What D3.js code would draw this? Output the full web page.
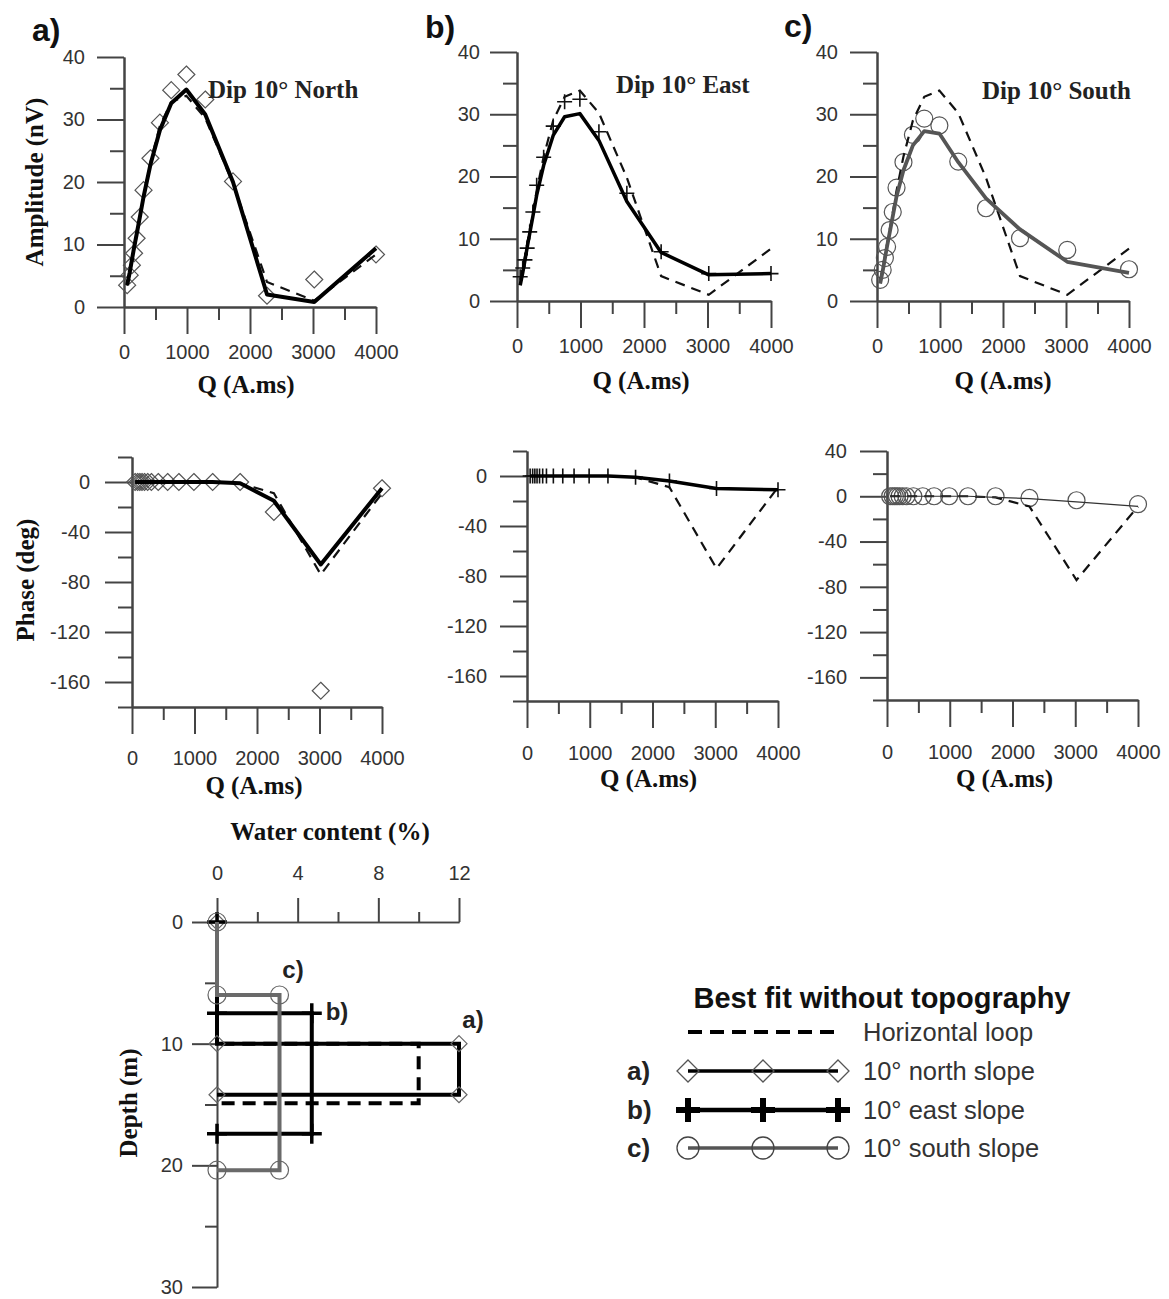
<!DOCTYPE html>
<html><head><meta charset="utf-8">
<script src="https://cdn.jsdelivr.net/npm/d3@7"></script>
<style>
body{margin:0;background:#fff}
svg{display:block;background:#fff}
</style>
</head><body>
<svg id="chart" width="1169" height="1299"></svg>
<script>
// ---------- data ----------
const Q = [50, 90, 125, 160, 200, 250, 310, 420, 570, 750, 990, 1290, 1730, 2270, 3020, 4000];
const ampHL       = [3.4, 5.3, 7.2, 9.2, 11.4, 14.2, 17.7, 23.2, 29.0, 32.8, 33.8, 30.2, 19.8, 4.0, 1.0, 8.4];
const ampNorthObs = [3.5, 5.1, 6.7, 8.6, 11.0, 14.4, 18.7, 23.8, 29.5, 34.7, 37.2, 33.2, 20.1, 1.8, 4.4, 8.4];
const ampNorthFit = [3.5, 5.5, 7.5, 9.5, 11.6, 14.3, 17.6, 22.8, 28.3, 32.6, 34.8, 30.8, 20.0, 2.0, 0.8, 9.4];
const ampEastObs  = [3.9, 5.3, 6.6, 8.5, 11.1, 14.3, 18.6, 23.1, 28.1, 32.0, 32.4, 27.2, 17.3, 7.9, 4.4, 4.4];
const ampEastFit  = [2.5, 4.5, 6.5, 8.6, 10.8, 13.6, 17.0, 21.8, 26.6, 29.6, 30.1, 25.8, 16.0, 7.8, 4.2, 4.4];
const ampSouthObs = [3.4, 5.0, 6.9, 8.7, 11.4, 14.3, 18.2, 22.3, 26.7, 29.3, 28.2, 22.4, 14.9, 10.1, 8.2, 5.1];
const ampSouthFit = [2.8, 4.8, 6.8, 8.8, 10.9, 13.6, 16.8, 21.0, 25.0, 27.3, 26.9, 22.3, 16.5, 11.5, 6.3, 4.5];

const phHL        = [0, 0, 0, 0, 0, 0, 0, 0, 0, 0, 0, 0, -1, -9, -74, -9];
const phNorthObs  = [0, 0, 0, 0, 0, 0, 0, 0, 0, 0, 0, 0, 0, -24, -167, -5];
const phNorthFit  = [0, 0, 0, 0, 0, 0, 0, 0, 0, 0, 0, 0, -1, -15, -66, -5];
const phEastObs   = [0, 0, 0, 0, 0, 0, 0, 0, 0, 0, 0, 0, -1, -4, -10, -11];
const phEastFit   = [0, 0, 0, 0, 0, 0, 0, 0, 0, 0, 0, 0, -1, -4, -10, -11];
const phSouthObs  = [0, 0, 0, 0, 0, 0, 0, 0, 0, 0, 0, 0, 0, -1.5, -3.5, -7];
const phSouthFit  = [0, 0, 0, 0, 0, 0, 0, 0, 0, 0, 0, 0, -1, -2, -5, -9];

const qMajor = [0, 1000, 2000, 3000, 4000];
const qMinor = [500, 1500, 2500, 3500];
const ampMajor = [0, 10, 20, 30, 40];
const ampMinor = [5, 15, 25, 35];
const phMajorAB = [-160, -120, -80, -40, 0];
const phMajorC = [-160, -120, -80, -40, 0, 40];
const phMinor = [-180, -140, -100, -60, -20, 20];

// water content profiles: horizontal loop, a) north, b) east, c) south
const layerNames  = ["HL", "north", "east", "south"];
const layerTop    = [10, 10, 7.5, 6.0];
const layerBottom = [14.9, 14.2, 17.4, 20.4];
const layerWater  = [10, 12, 4.7, 3.1];
const wcMajor = [0, 4, 8, 12];
const wcMinor = [2, 6, 10];
const depthMajor = [0, 10, 20, 30];
const depthMinor = [5, 15, 25];

// ---------- helpers ----------
const svg = d3.select("#chart");
const SANS = "'Liberation Sans', Arial, sans-serif";
const SERIF = "'Liberation Serif', 'Times New Roman', serif";
const AX = "#444";
const fmt = d => String(d);

const diamondPath = s => `M0,${-s}L${s},0L0,${s}L${-s},0Z`;
const plusPath = s => `M${-s},0H${s}M0,${-s}V${s}`;

function styleAxis(g, fs) {
  g.attr("font-family", SANS).attr("font-size", fs);
  g.selectAll("path.domain").attr("stroke", AX).attr("stroke-width", 2);
  g.selectAll(".tick line").attr("stroke", AX).attr("stroke-width", 2);
  g.selectAll(".tick text").attr("fill", "#333");
}

function panel(cfg) {
  const g = svg.append("g");
  const x = d3.scaleLinear().domain([0, 4000]).range([cfg.x0, cfg.x1]);
  const y = d3.scaleLinear().domain(cfg.yDomain).range([cfg.yBot, cfg.yTop]);
  const yb = y(cfg.yDomain[0]);
  g.append("g").attr("transform", `translate(0,${yb})`)
    .call(d3.axisBottom(x).tickValues(qMinor).tickSize(13).tickSizeOuter(0).tickFormat(""))
    .call(a => styleAxis(a, 20));
  g.append("g").attr("transform", `translate(0,${yb})`)
    .call(d3.axisBottom(x).tickValues(qMajor).tickSize(27).tickSizeOuter(0).tickPadding(cfg.xPad).tickFormat(fmt))
    .call(a => styleAxis(a, 20));
  g.append("g").attr("transform", `translate(${x(0)},0)`)
    .call(d3.axisLeft(y).tickValues(cfg.yMinor).tickSize(14).tickSizeOuter(0).tickFormat(""))
    .call(a => styleAxis(a, 20));
  g.append("g").attr("transform", `translate(${x(0)},0)`)
    .call(d3.axisLeft(y).tickValues(cfg.yMajor).tickSize(27).tickSizeOuter(0).tickPadding(cfg.yPad).tickFormat(fmt))
    .call(a => styleAxis(a, 20));

  const line = d3.line().x(d => x(d[0])).y(d => y(d[1]));
  const pts = arr => Q.map((q, i) => [q, arr[i]]);

  const mk = g.append("g").attr("fill", "none");
  pts(cfg.obs).forEach(p => {
    const t = `translate(${x(p[0])},${y(p[1])})`;
    if (cfg.marker === "diamond") mk.append("path").attr("d", diamondPath(8.5)).attr("transform", t).attr("stroke", "#555").attr("stroke-width", 1.2);
    else if (cfg.marker === "plus") mk.append("path").attr("d", plusPath(7.5)).attr("transform", t).attr("stroke", "#111").attr("stroke-width", 1.6);
    else mk.append("circle").attr("r", 8.5).attr("transform", t).attr("stroke", "#555").attr("stroke-width", 1.2);
  });
  g.append("path").datum(pts(cfg.hl)).attr("d", line).attr("fill", "none")
    .attr("stroke", "#111").attr("stroke-width", 2.2).attr("stroke-dasharray", "10,7");
  g.append("path").datum(pts(cfg.fit)).attr("d", line).attr("fill", "none")
    .attr("stroke", cfg.fitColor).attr("stroke-width", cfg.fitWidth).attr("stroke-linejoin", "round");

  g.append("text").attr("x", (cfg.x0 + cfg.x1) / 2 + cfg.titleDx).attr("y", cfg.titleY)
    .attr("text-anchor", "middle").attr("font-family", SERIF).attr("font-weight", "bold")
    .attr("font-size", 25).attr("fill", "#111").text("Q (A.ms)");
  return {x, y, g};
}

// ---------- amplitude panels ----------
panel({x0: 124, x1: 376, yBot: 307, yTop: 57, yDomain: [0, 40], yMajor: ampMajor, yMinor: ampMinor,
  xPad: 11, yPad: 12, obs: ampNorthObs, fit: ampNorthFit, hl: ampHL, marker: "diamond",
  fitColor: "#000", fitWidth: 4, titleDx: -4, titleY: 393});
panel({x0: 517, x1: 771, yBot: 301, yTop: 52, yDomain: [0, 40], yMajor: ampMajor, yMinor: ampMinor,
  xPad: 11, yPad: 10, obs: ampEastObs, fit: ampEastFit, hl: ampHL, marker: "plus",
  fitColor: "#000", fitWidth: 3.5, titleDx: -3, titleY: 389});
panel({x0: 877, x1: 1129, yBot: 301, yTop: 52, yDomain: [0, 40], yMajor: ampMajor, yMinor: ampMinor,
  xPad: 11, yPad: 12, obs: ampSouthObs, fit: ampSouthFit, hl: ampHL, marker: "circle",
  fitColor: "#555", fitWidth: 3.8, titleDx: 0, titleY: 389});

// ---------- phase panels ----------
panel({x0: 132, x1: 382, yBot: 707, yTop: 457, yDomain: [-180, 20], yMajor: phMajorAB, yMinor: phMinor,
  xPad: 17, yPad: 15, obs: phNorthObs, fit: phNorthFit, hl: phHL, marker: "diamond",
  fitColor: "#000", fitWidth: 4, titleDx: -3, titleY: 794});
panel({x0: 527, x1: 778, yBot: 701, yTop: 451, yDomain: [-180, 20], yMajor: phMajorAB, yMinor: phMinor,
  xPad: 18, yPad: 13, obs: phEastObs, fit: phEastFit, hl: phHL, marker: "plus",
  fitColor: "#000", fitWidth: 3.5, titleDx: -4, titleY: 787});
panel({x0: 887, x1: 1138, yBot: 700, yTop: 451, yDomain: [-180, 40], yMajor: phMajorC, yMinor: phMinor,
  xPad: 18, yPad: 13, obs: phSouthObs, fit: phSouthFit, hl: phHL, marker: "circle",
  fitColor: "#333", fitWidth: 1.2, titleDx: -8, titleY: 787});

// ---------- panel letters and titles ----------
const big = [["a)", 32, 41], ["b)", 425, 38], ["c)", 784, 37]];
big.forEach(b => svg.append("text").attr("x", b[1]).attr("y", b[2]).attr("font-family", SANS)
  .attr("font-weight", "bold").attr("font-size", 32).attr("fill", "#111").text(b[0]));

const dips = [["Dip 10° North", 208, 98], ["Dip 10° East", 616, 93], ["Dip 10° South", 982, 99]];
dips.forEach(d => svg.append("text").attr("x", d[1]).attr("y", d[2]).attr("font-family", SERIF)
  .attr("font-weight", "bold").attr("font-size", 25).attr("fill", "#222").text(d[0]));

svg.append("text").attr("transform", "translate(43,182) rotate(-90)").attr("text-anchor", "middle")
  .attr("font-family", SERIF).attr("font-weight", "bold").attr("font-size", 25).attr("fill", "#111").text("Amplitude (nV)");
svg.append("text").attr("transform", "translate(34,580) rotate(-90)").attr("text-anchor", "middle")
  .attr("font-family", SERIF).attr("font-weight", "bold").attr("font-size", 25).attr("fill", "#111").text("Phase (deg)");

// ---------- water content panel ----------
const wx = d3.scaleLinear().domain([0, 12]).range([217, 459]);
const wy = d3.scaleLinear().domain([0, 30]).range([922, 1287]);
const wg = svg.append("g");
wg.append("g").attr("transform", `translate(0,${wy(0)})`)
  .call(d3.axisTop(wx).tickValues(wcMinor).tickSize(10).tickSizeOuter(0).tickFormat(""))
  .call(a => styleAxis(a, 20));
wg.append("g").attr("transform", `translate(0,${wy(0)})`)
  .call(d3.axisTop(wx).tickValues(wcMajor).tickSize(24).tickSizeOuter(0).tickPadding(18).tickFormat(fmt))
  .call(a => styleAxis(a, 20));
wg.append("g").attr("transform", `translate(${wx(0)},0)`)
  .call(d3.axisLeft(wy).tickValues(depthMinor).tickSize(12).tickSizeOuter(0).tickFormat(""))
  .call(a => styleAxis(a, 20));
wg.append("g").attr("transform", `translate(${wx(0)},0)`)
  .call(d3.axisLeft(wy).tickValues(depthMajor).tickSize(25).tickSizeOuter(0).tickPadding(9).tickFormat(fmt))
  .call(a => styleAxis(a, 20));
wg.selectAll("path.domain").attr("stroke-width", 1.6);

svg.append("text").attr("x", 330).attr("y", 840).attr("text-anchor", "middle").attr("font-family", SERIF)
  .attr("font-weight", "bold").attr("font-size", 25).attr("fill", "#111").text("Water content (%)");
svg.append("text").attr("transform", "translate(137,1103) rotate(-90)").attr("text-anchor", "middle")
  .attr("font-family", SERIF).attr("font-weight", "bold").attr("font-size", 25).attr("fill", "#111").text("Depth (m)");

const wline = d3.line().x(d => wx(d[0])).y(d => wy(d[1]));
const layerStyle = {
  HL:    {stroke: "#000", width: 4, dash: "13,8", marker: null},
  north: {stroke: "#000", width: 4, dash: null, marker: "diamond"},
  east:  {stroke: "#000", width: 4, dash: null, marker: "plus"},
  south: {stroke: "#6a6a6a", width: 4, dash: null, marker: "circle"}
};
layerNames.forEach((name, i) => {
  const st = layerStyle[name];
  const t = layerTop[i], b = layerBottom[i], w = layerWater[i];
  const path = [[0, 0], [0, t], [w, t], [w, b], [0, b]];
  wg.append("path").datum(path).attr("d", wline).attr("fill", "none")
    .attr("stroke", st.stroke).attr("stroke-width", st.width)
    .attr("stroke-dasharray", st.dash).attr("stroke-linejoin", "miter");
  if (st.marker) {
    path.forEach(p => {
      const tr = `translate(${wx(p[0])},${wy(p[1])})`;
      if (st.marker === "diamond") wg.append("path").attr("d", diamondPath(8)).attr("transform", tr)
        .attr("fill", "none").attr("stroke", "#666").attr("stroke-width", 1.2);
      else if (st.marker === "plus") wg.append("path").attr("d", plusPath(10)).attr("transform", tr)
        .attr("fill", "none").attr("stroke", "#000").attr("stroke-width", 3.5);
      else wg.append("circle").attr("r", 9).attr("transform", tr)
        .attr("fill", "none").attr("stroke", "#666").attr("stroke-width", 1.2);
    });
  }
});
[["c)", 293, 978], ["b)", 337, 1020], ["a)", 473, 1028]].forEach(l =>
  svg.append("text").attr("x", l[1]).attr("y", l[2]).attr("text-anchor", "middle").attr("font-family", SANS)
    .attr("font-weight", "bold").attr("font-size", 24).attr("fill", "#222").text(l[0]));

// ---------- legend ----------
const lg = svg.append("g");
lg.append("text").attr("x", 882).attr("y", 1008).attr("text-anchor", "middle").attr("font-family", SANS)
  .attr("font-weight", "bold").attr("font-size", 29).attr("fill", "#111").text("Best fit without topography");
const legRows = ["Horizontal loop", "10° north slope", "10° east slope", "10° south slope"];
const legTags = ["", "a)", "b)", "c)"];
const legY = [1032, 1071, 1110, 1148];
const lx = d3.scaleLinear().domain([0, 2]).range([688, 838]);
legRows.forEach((label, i) => {
  const yy = legY[i];
  lg.append("text").attr("x", 863).attr("y", yy + 9).attr("font-family", SANS).attr("font-size", 25.5)
    .attr("fill", "#333").text(label);
  if (legTags[i]) lg.append("text").attr("x", 627).attr("y", yy + 9).attr("font-family", SANS)
    .attr("font-weight", "bold").attr("font-size", 26).attr("fill", "#222").text(legTags[i]);
  const seg = lg.append("line").attr("x1", lx(0)).attr("x2", lx(2)).attr("y1", yy).attr("y2", yy);
  if (i === 0) seg.attr("stroke", "#000").attr("stroke-width", 4).attr("stroke-dasharray", "14,8");
  else if (i === 3) seg.attr("stroke", "#555").attr("stroke-width", 3.5);
  else seg.attr("stroke", "#000").attr("stroke-width", i === 2 ? 4.5 : 3.5);
  if (i > 0) [0, 1, 2].forEach(k => {
    const tr = `translate(${lx(k)},${yy})`;
    if (i === 1) lg.append("path").attr("d", diamondPath(11)).attr("transform", tr).attr("fill", "none").attr("stroke", "#555").attr("stroke-width", 1.3);
    else if (i === 2) lg.append("path").attr("d", plusPath(12)).attr("transform", tr).attr("fill", "none").attr("stroke", "#000").attr("stroke-width", 6);
    else lg.append("circle").attr("r", 11).attr("transform", tr).attr("fill", "none").attr("stroke", "#444").attr("stroke-width", 1.3);
  });
});
</script>
</body></html>
